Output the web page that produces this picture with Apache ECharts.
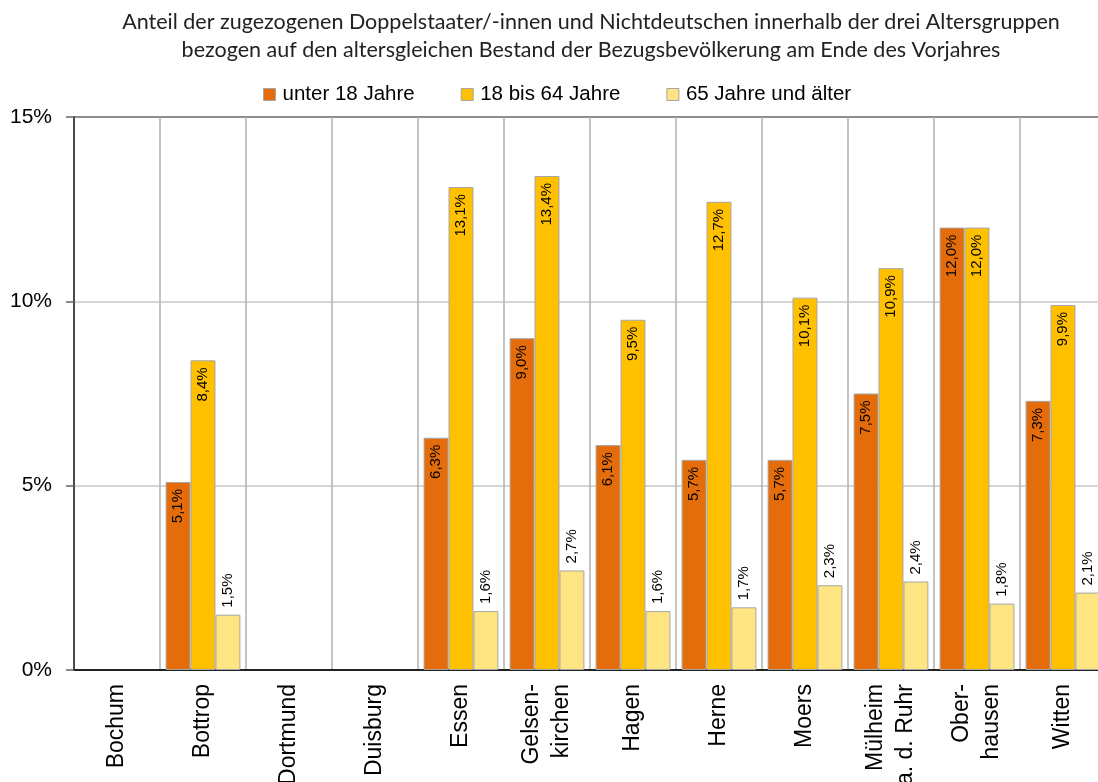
<!DOCTYPE html>
<html>
<head>
<meta charset="utf-8">
<script src="https://cdn.jsdelivr.net/npm/echarts@6/dist/echarts.min.js"></script>
<style>
  html, body { margin: 0; padding: 0; background: #fff; }
  #chart { width: 1098px; height: 782px; }
</style>
</head>
<body>
<div id="chart"></div>
<script>
// Städte (Kategorien)
const categories = ['Bochum', 'Bottrop', 'Dortmund', 'Duisburg', 'Essen', 'Gelsen-\nkirchen', 'Hagen', 'Herne', 'Moers', 'Mülheim\na. d. Ruhr', 'Ober-\nhausen', 'Witten'];
// Anteile in Prozent je Altersgruppe
const unter18 = [null, 5.1, null, null, 6.3, 9.0, 6.1, 5.7, 5.7, 7.5, 12.0, 7.3];
const von18bis64 = [null, 8.4, null, null, 13.1, 13.4, 9.5, 12.7, 10.1, 10.9, 12.0, 9.9];
const ab65 = [null, 1.5, null, null, 1.6, 2.7, 1.6, 1.7, 2.3, 2.4, 1.8, 2.1];
const seriesNames = ['unter 18 Jahre', '18 bis 64 Jahre', '65 Jahre und älter'];
const yTicks = [0, 5, 10, 15];
const titleLines = [
  'Anteil der zugezogenen Doppelstaater/-innen und Nichtdeutschen innerhalb der drei Altersgruppen',
  'bezogen auf den altersgleichen Bestand der Bezugsbevölkerung am Ende des Vorjahres'
];

const fmt = p => p.value == null ? '' : p.value.toFixed(1).replace('.', ',') + '%';
const sans = '"Liberation Sans", Arial, sans-serif';

const insideLabel = {
  show: true, position: 'insideTop', rotate: 90, align: 'right', verticalAlign: 'middle',
  distance: 7, formatter: fmt, fontFamily: sans, fontSize: 15, color: '#000'
};
const topLabel = {
  show: true, position: 'top', rotate: 90, align: 'left', verticalAlign: 'middle',
  distance: 7, formatter: fmt, fontFamily: sans, fontSize: 15, color: '#000'
};

const barBase = {
  type: 'bar', barGap: '0%', barCategoryGap: '13%',
  itemStyle: { borderColor: '#a6a6a6', borderWidth: 1 }
};

const chart = echarts.init(document.getElementById('chart'), null, { renderer: 'canvas' });
chart.setOption({
  animation: false,
  backgroundColor: '#fff',
  graphic: titleLines.map((t, i) => ({
    type: 'text', x: 591, y: 22 + i * 28,
    style: {
      text: t, textAlign: 'center', textVerticalAlign: 'middle',
      font: '21.5px Lato, sans-serif', fill: '#222'
    }
  })),
  legend: {
    top: 84, left: 263, padding: 0,
    itemWidth: 12, itemHeight: 12, itemGap: 46,
    textStyle: { fontFamily: sans, fontSize: 20.5, color: '#000', padding: [0, 0, 0, 2] },
    data: seriesNames.map(n => ({ name: n, icon: 'rect', itemStyle: { borderColor: '#a6a6a6', borderWidth: 1 } }))
  },
  grid: { left: 74, right: -8, top: 117, bottom: 112, containLabel: false, outerBoundsMode: 'none' },
  xAxis: {
    type: 'category', data: categories,
    axisLine: { show: true, lineStyle: { color: '#222', width: 2 } },
    axisTick: { show: false },
    splitLine: { show: true, interval: 0, lineStyle: { color: '#b0b0b0', width: 1.5 } },
    axisLabel: {
      interval: 0, rotate: 90, margin: 14, fontFamily: sans, fontSize: 23, color: '#000', lineHeight: 30
    }
  },
  yAxis: {
    type: 'value', min: yTicks[0], max: yTicks[yTicks.length - 1], interval: 5,
    axisLine: { show: true, lineStyle: { color: '#222', width: 1.5 } },
    axisTick: { show: true, length: 8, lineStyle: { color: '#666', width: 1.5 } },
    axisLabel: { formatter: '{value}%', fontFamily: sans, fontSize: 21, color: '#000', margin: 22 },
    splitLine: { show: true, lineStyle: { color: ['#888', '#c8c8c8', '#c8c8c8', '#666'], width: 1.5 } }
  },
  series: [
    Object.assign({}, barBase, { name: seriesNames[0], data: unter18, itemStyle: Object.assign({}, barBase.itemStyle, { color: '#e46c0a' }), label: insideLabel }),
    Object.assign({}, barBase, { name: seriesNames[1], data: von18bis64, itemStyle: Object.assign({}, barBase.itemStyle, { color: '#ffc000' }), label: insideLabel }),
    Object.assign({}, barBase, { name: seriesNames[2], data: ab65, itemStyle: Object.assign({}, barBase.itemStyle, { color: '#ffe581' }), label: topLabel })
  ]
});
</script>
</body>
</html>
